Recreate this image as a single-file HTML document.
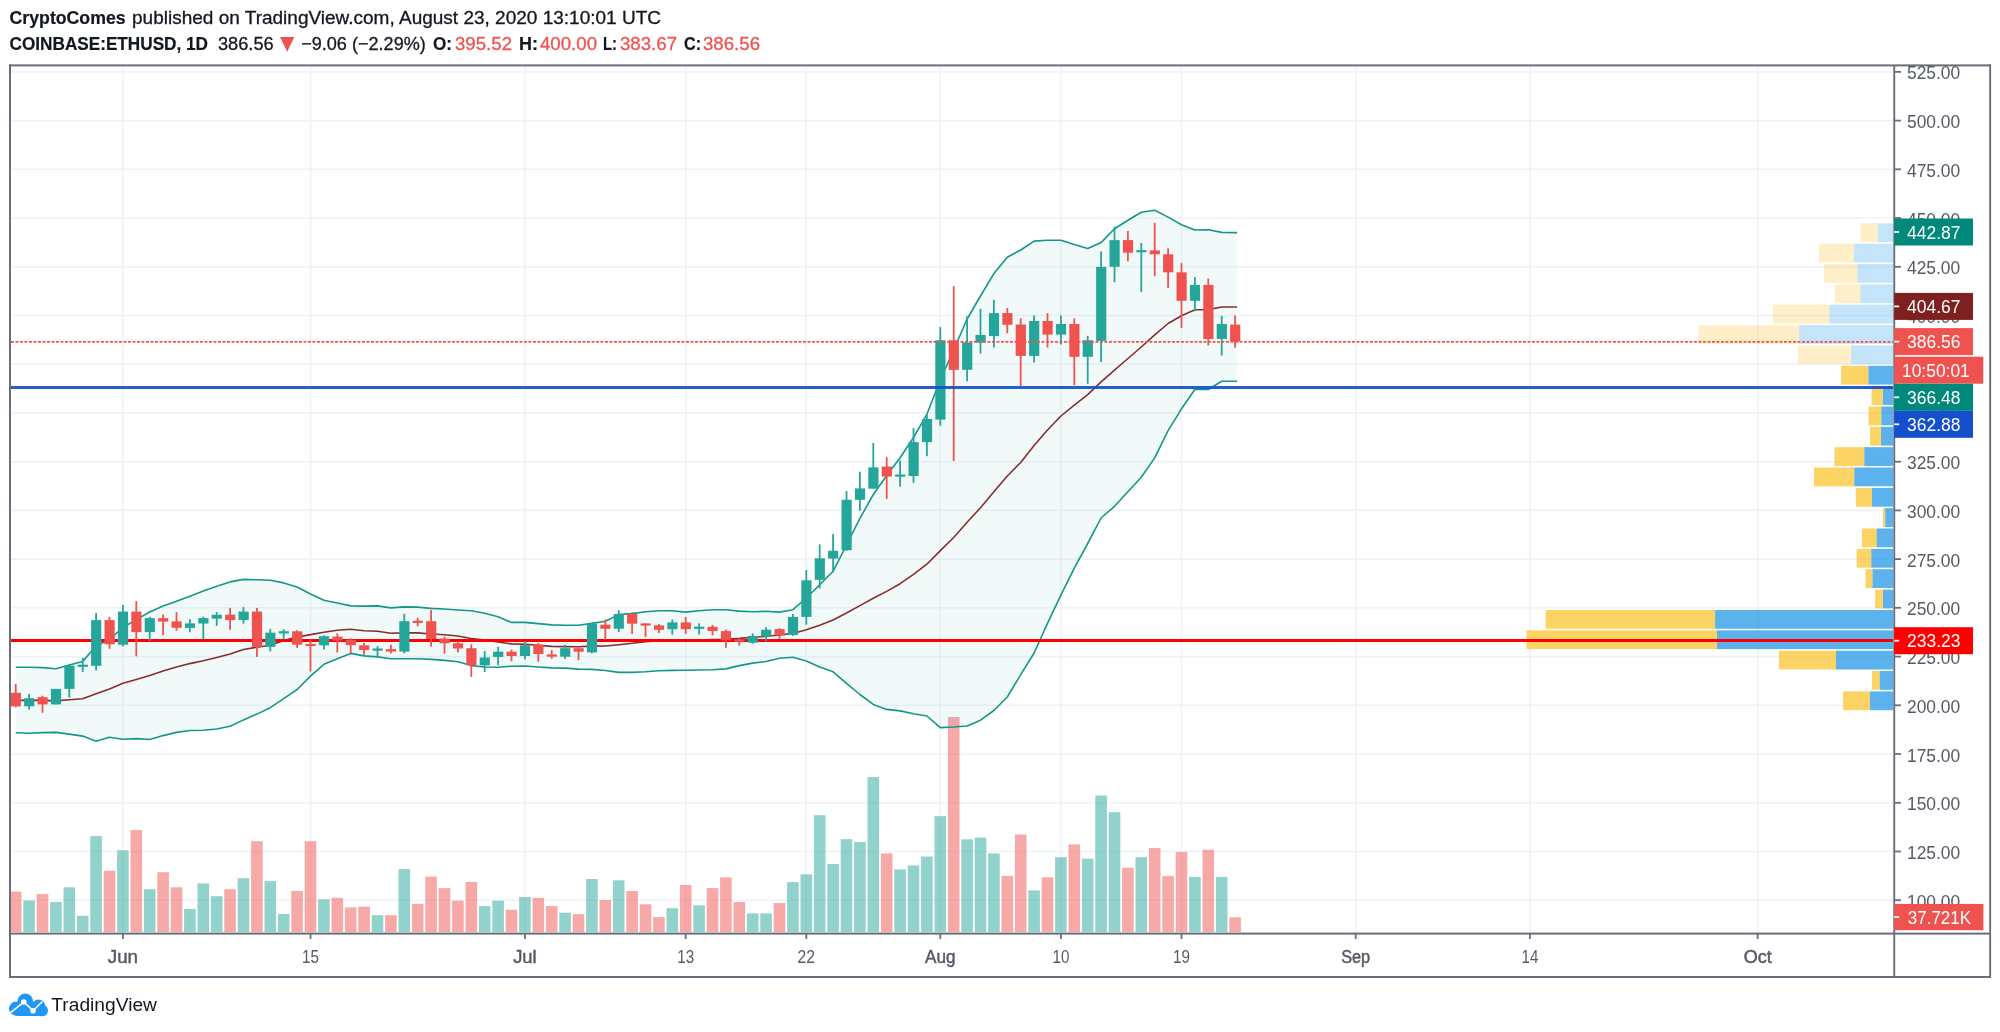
<!DOCTYPE html>
<html><head><meta charset="utf-8"><title>ETHUSD</title>
<style>
html,body{margin:0;padding:0;background:#fff;}
body{width:2000px;height:1032px;overflow:hidden;font-family:"Liberation Sans",sans-serif;}
svg{display:block;position:absolute;left:0;top:0;will-change:transform;}
text{font-family:"Liberation Sans",sans-serif;}
.ax{font-size:18px;fill:#555a66;}
.lb{font-size:18px;fill:#ffffff;}
.tm{font-size:17.5px;fill:#555a66;text-anchor:middle;}
.hd{font-size:18.1px;fill:#131722;stroke:#131722;stroke-width:0.3px;}
.hb{font-size:18.1px;fill:#131722;font-weight:bold;stroke:#131722;stroke-width:0.2px;}
.hr{font-size:18.1px;fill:#ef5350;stroke:#ef5350;stroke-width:0.3px;}
</style></head><body>
<svg width="2000" height="1032" viewBox="0 0 2000 1032">
<rect x="0" y="0" width="2000" height="1032" fill="#ffffff"/>
<defs><clipPath id="pane"><rect x="11" y="66.3" width="1882.3" height="866.4"/></clipPath></defs>
<g id="grid" stroke="#f0f2f9" stroke-width="1.6">
<line x1="11" x2="1893" y1="900.2" y2="900.2"/><line x1="11" x2="1893" y1="851.5" y2="851.5"/><line x1="11" x2="1893" y1="802.8" y2="802.8"/><line x1="11" x2="1893" y1="754.0" y2="754.0"/><line x1="11" x2="1893" y1="705.3" y2="705.3"/><line x1="11" x2="1893" y1="656.6" y2="656.6"/><line x1="11" x2="1893" y1="607.8" y2="607.8"/><line x1="11" x2="1893" y1="559.1" y2="559.1"/><line x1="11" x2="1893" y1="510.4" y2="510.4"/><line x1="11" x2="1893" y1="461.7" y2="461.7"/><line x1="11" x2="1893" y1="412.9" y2="412.9"/><line x1="11" x2="1893" y1="364.2" y2="364.2"/><line x1="11" x2="1893" y1="315.5" y2="315.5"/><line x1="11" x2="1893" y1="266.8" y2="266.8"/><line x1="11" x2="1893" y1="218.0" y2="218.0"/><line x1="11" x2="1893" y1="169.3" y2="169.3"/><line x1="11" x2="1893" y1="120.6" y2="120.6"/><line x1="11" x2="1893" y1="71.9" y2="71.9"/><line x1="122.9" x2="122.9" y1="66" y2="933"/><line x1="310.5" x2="310.5" y1="66" y2="933"/><line x1="524.9" x2="524.9" y1="66" y2="933"/><line x1="685.7" x2="685.7" y1="66" y2="933"/><line x1="806.3" x2="806.3" y1="66" y2="933"/><line x1="940.3" x2="940.3" y1="66" y2="933"/><line x1="1060.9" x2="1060.9" y1="66" y2="933"/><line x1="1181.5" x2="1181.5" y1="66" y2="933"/><line x1="1355.7" x2="1355.7" y1="66" y2="933"/><line x1="1529.9" x2="1529.9" y1="66" y2="933"/><line x1="1757.7" x2="1757.7" y1="66" y2="933"/></g>
<g clip-path="url(#pane)">
<g id="vp">
<rect x="1860.5" y="223.3" width="17.4" height="18.8" fill="rgba(251,193,35,0.25)"/><rect x="1877.9" y="223.3" width="15.6" height="18.8" fill="rgba(21,146,230,0.25)"/>
<rect x="1819.0" y="243.7" width="34.9" height="18.8" fill="rgba(251,193,35,0.25)"/><rect x="1853.9" y="243.7" width="39.6" height="18.8" fill="rgba(21,146,230,0.25)"/>
<rect x="1824.0" y="264.0" width="33.4" height="18.8" fill="rgba(251,193,35,0.25)"/><rect x="1857.4" y="264.0" width="36.1" height="18.8" fill="rgba(21,146,230,0.25)"/>
<rect x="1834.9" y="284.4" width="25.6" height="18.8" fill="rgba(251,193,35,0.25)"/><rect x="1860.5" y="284.4" width="33.0" height="18.8" fill="rgba(21,146,230,0.25)"/>
<rect x="1772.9" y="304.7" width="56.6" height="18.8" fill="rgba(251,193,35,0.25)"/><rect x="1829.5" y="304.7" width="64.0" height="18.8" fill="rgba(21,146,230,0.25)"/>
<rect x="1698.4" y="325.1" width="100.8" height="18.8" fill="rgba(251,193,35,0.25)"/><rect x="1799.2" y="325.1" width="94.3" height="18.8" fill="rgba(21,146,230,0.25)"/>
<rect x="1797.9" y="345.4" width="53.3" height="18.8" fill="rgba(251,193,35,0.25)"/><rect x="1851.2" y="345.4" width="42.3" height="18.8" fill="rgba(21,146,230,0.25)"/>
<rect x="1841.2" y="365.8" width="27.2" height="18.8" fill="rgba(251,193,35,0.7)"/><rect x="1868.4" y="365.8" width="25.1" height="18.8" fill="rgba(21,146,230,0.7)"/>
<rect x="1871.5" y="386.1" width="11.5" height="18.8" fill="rgba(251,193,35,0.7)"/><rect x="1883.0" y="386.1" width="10.5" height="18.8" fill="rgba(21,146,230,0.7)"/>
<rect x="1868.5" y="406.5" width="12.9" height="18.8" fill="rgba(251,193,35,0.7)"/><rect x="1881.4" y="406.5" width="12.1" height="18.8" fill="rgba(21,146,230,0.7)"/>
<rect x="1870.0" y="426.8" width="11.0" height="18.8" fill="rgba(251,193,35,0.7)"/><rect x="1881.0" y="426.8" width="12.5" height="18.8" fill="rgba(21,146,230,0.7)"/>
<rect x="1834.5" y="447.2" width="29.8" height="18.8" fill="rgba(251,193,35,0.7)"/><rect x="1864.3" y="447.2" width="29.2" height="18.8" fill="rgba(21,146,230,0.7)"/>
<rect x="1814.0" y="467.5" width="40.3" height="18.8" fill="rgba(251,193,35,0.7)"/><rect x="1854.3" y="467.5" width="39.2" height="18.8" fill="rgba(21,146,230,0.7)"/>
<rect x="1855.8" y="487.9" width="16.2" height="18.8" fill="rgba(251,193,35,0.7)"/><rect x="1872.0" y="487.9" width="21.5" height="18.8" fill="rgba(21,146,230,0.7)"/>
<rect x="1883.0" y="508.2" width="2.3" height="18.8" fill="rgba(251,193,35,0.7)"/><rect x="1885.3" y="508.2" width="8.2" height="18.8" fill="rgba(21,146,230,0.7)"/>
<rect x="1862.0" y="528.5" width="14.7" height="18.8" fill="rgba(251,193,35,0.7)"/><rect x="1876.7" y="528.5" width="16.8" height="18.8" fill="rgba(21,146,230,0.7)"/>
<rect x="1856.6" y="548.9" width="14.7" height="18.8" fill="rgba(251,193,35,0.7)"/><rect x="1871.3" y="548.9" width="22.2" height="18.8" fill="rgba(21,146,230,0.7)"/>
<rect x="1865.5" y="569.2" width="7.0" height="18.8" fill="rgba(251,193,35,0.7)"/><rect x="1872.5" y="569.2" width="21.0" height="18.8" fill="rgba(21,146,230,0.7)"/>
<rect x="1875.2" y="589.6" width="7.8" height="18.8" fill="rgba(251,193,35,0.7)"/><rect x="1883.0" y="589.6" width="10.5" height="18.8" fill="rgba(21,146,230,0.7)"/>
<rect x="1545.7" y="610.0" width="169.4" height="18.8" fill="rgba(251,193,35,0.7)"/><rect x="1715.1" y="610.0" width="178.4" height="18.8" fill="rgba(21,146,230,0.7)"/>
<rect x="1526.4" y="630.3" width="190.6" height="18.8" fill="rgba(251,193,35,0.7)"/><rect x="1717.0" y="630.3" width="176.5" height="18.8" fill="rgba(21,146,230,0.7)"/>
<rect x="1779.0" y="650.7" width="57.0" height="18.8" fill="rgba(251,193,35,0.7)"/><rect x="1836.0" y="650.7" width="57.5" height="18.8" fill="rgba(21,146,230,0.7)"/>
<rect x="1872.0" y="671.0" width="7.8" height="18.8" fill="rgba(251,193,35,0.7)"/><rect x="1879.8" y="671.0" width="13.7" height="18.8" fill="rgba(21,146,230,0.7)"/>
<rect x="1843.0" y="691.4" width="27.0" height="18.8" fill="rgba(251,193,35,0.7)"/><rect x="1870.0" y="691.4" width="23.5" height="18.8" fill="rgba(21,146,230,0.7)"/>
</g>
<g id="vol">
<rect x="9.9" y="891.6" width="11.6" height="40.6" fill="rgba(239,83,80,0.5)"/><rect x="23.3" y="900.5" width="11.6" height="31.7" fill="rgba(38,166,154,0.5)"/><rect x="36.7" y="894.1" width="11.6" height="38.1" fill="rgba(239,83,80,0.5)"/><rect x="50.1" y="902.0" width="11.6" height="30.2" fill="rgba(38,166,154,0.5)"/><rect x="63.5" y="887.3" width="11.6" height="44.9" fill="rgba(38,166,154,0.5)"/><rect x="76.9" y="915.8" width="11.6" height="16.4" fill="rgba(38,166,154,0.5)"/><rect x="90.3" y="836.1" width="11.6" height="96.1" fill="rgba(38,166,154,0.5)"/><rect x="103.7" y="870.8" width="11.6" height="61.4" fill="rgba(239,83,80,0.5)"/><rect x="117.1" y="850.3" width="11.6" height="81.9" fill="rgba(38,166,154,0.5)"/><rect x="130.5" y="830.1" width="11.6" height="102.1" fill="rgba(239,83,80,0.5)"/><rect x="143.9" y="889.2" width="11.6" height="43.0" fill="rgba(38,166,154,0.5)"/><rect x="157.3" y="872.2" width="11.6" height="60.0" fill="rgba(239,83,80,0.5)"/><rect x="170.7" y="887.3" width="11.6" height="44.9" fill="rgba(239,83,80,0.5)"/><rect x="184.1" y="909.0" width="11.6" height="23.2" fill="rgba(38,166,154,0.5)"/><rect x="197.5" y="883.4" width="11.6" height="48.8" fill="rgba(38,166,154,0.5)"/><rect x="210.9" y="896.2" width="11.6" height="36.0" fill="rgba(38,166,154,0.5)"/><rect x="224.3" y="889.2" width="11.6" height="43.0" fill="rgba(239,83,80,0.5)"/><rect x="237.7" y="878.2" width="11.6" height="54.0" fill="rgba(38,166,154,0.5)"/><rect x="251.1" y="841.2" width="11.6" height="91.0" fill="rgba(239,83,80,0.5)"/><rect x="264.5" y="881.1" width="11.6" height="51.1" fill="rgba(38,166,154,0.5)"/><rect x="277.9" y="914.0" width="11.6" height="18.2" fill="rgba(38,166,154,0.5)"/><rect x="291.3" y="891.0" width="11.6" height="41.2" fill="rgba(239,83,80,0.5)"/><rect x="304.7" y="841.2" width="11.6" height="91.0" fill="rgba(239,83,80,0.5)"/><rect x="318.1" y="899.3" width="11.6" height="32.9" fill="rgba(38,166,154,0.5)"/><rect x="331.5" y="897.8" width="11.6" height="34.4" fill="rgba(239,83,80,0.5)"/><rect x="344.9" y="907.4" width="11.6" height="24.8" fill="rgba(239,83,80,0.5)"/><rect x="358.3" y="906.7" width="11.6" height="25.5" fill="rgba(239,83,80,0.5)"/><rect x="371.7" y="915.2" width="11.6" height="17.0" fill="rgba(38,166,154,0.5)"/><rect x="385.1" y="915.2" width="11.6" height="17.0" fill="rgba(239,83,80,0.5)"/><rect x="398.5" y="869.1" width="11.6" height="63.1" fill="rgba(38,166,154,0.5)"/><rect x="411.9" y="903.8" width="11.6" height="28.4" fill="rgba(239,83,80,0.5)"/><rect x="425.3" y="876.6" width="11.6" height="55.6" fill="rgba(239,83,80,0.5)"/><rect x="438.7" y="888.1" width="11.6" height="44.1" fill="rgba(239,83,80,0.5)"/><rect x="452.1" y="900.7" width="11.6" height="31.5" fill="rgba(239,83,80,0.5)"/><rect x="465.5" y="881.9" width="11.6" height="50.3" fill="rgba(239,83,80,0.5)"/><rect x="478.9" y="906.1" width="11.6" height="26.1" fill="rgba(38,166,154,0.5)"/><rect x="492.3" y="900.7" width="11.6" height="31.5" fill="rgba(38,166,154,0.5)"/><rect x="505.7" y="909.8" width="11.6" height="22.4" fill="rgba(239,83,80,0.5)"/><rect x="519.1" y="897.0" width="11.6" height="35.2" fill="rgba(38,166,154,0.5)"/><rect x="532.5" y="897.8" width="11.6" height="34.4" fill="rgba(239,83,80,0.5)"/><rect x="545.9" y="906.1" width="11.6" height="26.1" fill="rgba(239,83,80,0.5)"/><rect x="559.3" y="912.7" width="11.6" height="19.5" fill="rgba(38,166,154,0.5)"/><rect x="572.7" y="914.2" width="11.6" height="18.0" fill="rgba(239,83,80,0.5)"/><rect x="586.1" y="879.0" width="11.6" height="53.2" fill="rgba(38,166,154,0.5)"/><rect x="599.5" y="900.1" width="11.6" height="32.1" fill="rgba(239,83,80,0.5)"/><rect x="612.9" y="880.3" width="11.6" height="51.9" fill="rgba(38,166,154,0.5)"/><rect x="626.3" y="891.0" width="11.6" height="41.2" fill="rgba(239,83,80,0.5)"/><rect x="639.7" y="904.3" width="11.6" height="27.9" fill="rgba(239,83,80,0.5)"/><rect x="653.1" y="917.1" width="11.6" height="15.1" fill="rgba(239,83,80,0.5)"/><rect x="666.5" y="908.2" width="11.6" height="24.0" fill="rgba(38,166,154,0.5)"/><rect x="679.9" y="885.0" width="11.6" height="47.2" fill="rgba(239,83,80,0.5)"/><rect x="693.3" y="905.3" width="11.6" height="26.9" fill="rgba(38,166,154,0.5)"/><rect x="706.7" y="888.1" width="11.6" height="44.1" fill="rgba(239,83,80,0.5)"/><rect x="720.1" y="877.4" width="11.6" height="54.8" fill="rgba(239,83,80,0.5)"/><rect x="733.5" y="902.0" width="11.6" height="30.2" fill="rgba(239,83,80,0.5)"/><rect x="746.9" y="913.4" width="11.6" height="18.8" fill="rgba(38,166,154,0.5)"/><rect x="760.3" y="913.4" width="11.6" height="18.8" fill="rgba(38,166,154,0.5)"/><rect x="773.7" y="903.0" width="11.6" height="29.2" fill="rgba(239,83,80,0.5)"/><rect x="787.1" y="882.1" width="11.6" height="50.1" fill="rgba(38,166,154,0.5)"/><rect x="800.5" y="874.3" width="11.6" height="57.9" fill="rgba(38,166,154,0.5)"/><rect x="813.9" y="815.2" width="11.6" height="117.0" fill="rgba(38,166,154,0.5)"/><rect x="827.3" y="864.0" width="11.6" height="68.2" fill="rgba(38,166,154,0.5)"/><rect x="840.7" y="839.2" width="11.6" height="93.0" fill="rgba(38,166,154,0.5)"/><rect x="854.1" y="842.1" width="11.6" height="90.1" fill="rgba(38,166,154,0.5)"/><rect x="867.5" y="777.0" width="11.6" height="155.2" fill="rgba(38,166,154,0.5)"/><rect x="880.9" y="853.4" width="11.6" height="78.8" fill="rgba(239,83,80,0.5)"/><rect x="894.3" y="869.4" width="11.6" height="62.8" fill="rgba(38,166,154,0.5)"/><rect x="907.7" y="865.5" width="11.6" height="66.7" fill="rgba(38,166,154,0.5)"/><rect x="921.1" y="856.5" width="11.6" height="75.7" fill="rgba(38,166,154,0.5)"/><rect x="934.5" y="816.1" width="11.6" height="116.1" fill="rgba(38,166,154,0.5)"/><rect x="947.9" y="717.0" width="11.6" height="215.2" fill="rgba(239,83,80,0.5)"/><rect x="961.3" y="839.3" width="11.6" height="92.9" fill="rgba(38,166,154,0.5)"/><rect x="974.7" y="837.6" width="11.6" height="94.6" fill="rgba(38,166,154,0.5)"/><rect x="988.1" y="853.4" width="11.6" height="78.8" fill="rgba(38,166,154,0.5)"/><rect x="1001.5" y="876.1" width="11.6" height="56.1" fill="rgba(239,83,80,0.5)"/><rect x="1014.9" y="834.5" width="11.6" height="97.7" fill="rgba(239,83,80,0.5)"/><rect x="1028.3" y="890.4" width="11.6" height="41.8" fill="rgba(38,166,154,0.5)"/><rect x="1041.7" y="877.3" width="11.6" height="54.9" fill="rgba(239,83,80,0.5)"/><rect x="1055.1" y="857.2" width="11.6" height="75.0" fill="rgba(38,166,154,0.5)"/><rect x="1068.5" y="844.4" width="11.6" height="87.8" fill="rgba(239,83,80,0.5)"/><rect x="1081.9" y="858.7" width="11.6" height="73.5" fill="rgba(38,166,154,0.5)"/><rect x="1095.3" y="795.5" width="11.6" height="136.7" fill="rgba(38,166,154,0.5)"/><rect x="1108.7" y="812.2" width="11.6" height="120.0" fill="rgba(38,166,154,0.5)"/><rect x="1122.1" y="867.7" width="11.6" height="64.5" fill="rgba(239,83,80,0.5)"/><rect x="1135.5" y="857.2" width="11.6" height="75.0" fill="rgba(38,166,154,0.5)"/><rect x="1148.9" y="848.0" width="11.6" height="84.2" fill="rgba(239,83,80,0.5)"/><rect x="1162.3" y="876.1" width="11.6" height="56.1" fill="rgba(239,83,80,0.5)"/><rect x="1175.7" y="851.9" width="11.6" height="80.3" fill="rgba(239,83,80,0.5)"/><rect x="1189.1" y="876.9" width="11.6" height="55.3" fill="rgba(38,166,154,0.5)"/><rect x="1202.5" y="849.7" width="11.6" height="82.5" fill="rgba(239,83,80,0.5)"/><rect x="1215.9" y="876.9" width="11.6" height="55.3" fill="rgba(38,166,154,0.5)"/><rect x="1229.3" y="917.3" width="11.6" height="14.9" fill="rgba(239,83,80,0.5)"/>
</g>
<polygon points="15.7,667.2 29.1,667.2 42.5,667.6 55.9,668.8 69.3,665.0 82.7,661.4 96.1,646.0 109.5,639.5 122.9,627.5 136.3,619.6 149.7,612.0 163.1,606.1 176.5,601.3 189.9,596.2 203.3,591.0 216.7,586.2 230.1,581.9 243.5,579.4 256.9,579.8 270.3,580.2 283.7,582.9 297.1,587.0 310.5,594.0 323.9,600.3 337.3,603.0 350.7,605.9 364.1,606.1 377.5,605.9 390.9,607.9 404.3,606.9 417.7,607.1 431.1,608.4 444.5,609.0 457.9,610.0 471.3,610.8 484.7,613.3 498.1,616.8 511.5,622.4 524.9,622.4 538.3,623.6 551.7,624.9 565.1,625.3 578.5,625.3 591.9,623.4 605.3,621.2 618.7,614.6 632.1,613.6 645.5,611.7 658.9,610.7 672.3,610.7 685.7,612.1 699.1,610.7 712.5,609.8 725.9,609.8 739.3,611.1 752.7,611.7 766.1,611.3 779.5,612.1 792.9,609.7 806.3,598.0 819.7,584.8 833.1,571.3 846.5,545.0 859.9,518.4 873.3,494.5 886.7,475.5 900.1,457.8 913.5,437.5 926.9,414.3 940.3,380.0 953.7,350.0 967.1,319.0 980.5,296.0 993.9,273.6 1007.3,257.2 1020.7,250.0 1034.1,241.1 1047.5,240.3 1060.9,240.3 1074.3,244.6 1087.7,248.4 1101.1,242.6 1114.5,228.7 1127.9,220.3 1141.3,212.2 1154.7,210.3 1168.1,217.1 1181.5,224.8 1194.9,230.0 1208.3,229.7 1221.7,232.4 1235.1,232.6 1236.6,232.6 1236.6,381.3 1235.1,381.3 1221.7,381.3 1208.3,389.5 1194.9,389.5 1181.5,408.8 1168.1,430.7 1154.7,457.9 1141.3,477.2 1127.9,491.8 1114.5,506.3 1101.1,518.0 1087.7,543.5 1074.3,568.2 1060.9,595.2 1047.5,623.3 1034.1,653.0 1020.7,674.7 1007.3,697.0 993.9,710.5 980.5,720.2 967.1,726.0 953.7,727.0 940.3,727.6 926.9,716.0 913.5,713.8 900.1,710.9 886.7,709.4 873.3,704.4 859.9,694.5 846.5,683.4 833.1,671.8 819.7,666.9 806.3,661.1 792.9,657.2 779.5,658.2 766.1,661.5 752.7,663.1 739.3,665.6 725.9,668.9 712.5,669.7 699.1,670.0 685.7,670.2 672.3,670.4 658.9,670.8 645.5,671.8 632.1,672.4 618.7,672.4 605.3,670.5 591.9,669.4 578.5,669.1 565.1,668.1 551.7,667.9 538.3,667.0 524.9,666.0 511.5,666.2 498.1,667.2 484.7,667.0 471.3,665.6 457.9,661.7 444.5,660.4 431.1,659.4 417.7,658.8 404.3,658.8 390.9,658.8 377.5,656.9 364.1,655.9 350.7,653.4 337.3,658.8 323.9,664.3 310.5,676.1 297.1,689.5 283.7,698.6 270.3,707.7 256.9,714.1 243.5,719.9 230.1,726.3 216.7,729.0 203.3,730.2 189.9,730.5 176.5,732.4 163.1,735.6 149.7,739.5 136.3,738.6 122.9,739.3 109.5,737.3 96.1,741.2 82.7,736.1 69.3,734.1 55.9,732.4 42.5,732.6 29.1,733.2 15.7,732.7" fill="#26a69a" fill-opacity="0.058"/>
<polyline points="15.7,667.2 29.1,667.2 42.5,667.6 55.9,668.8 69.3,665.0 82.7,661.4 96.1,646.0 109.5,639.5 122.9,627.5 136.3,619.6 149.7,612.0 163.1,606.1 176.5,601.3 189.9,596.2 203.3,591.0 216.7,586.2 230.1,581.9 243.5,579.4 256.9,579.8 270.3,580.2 283.7,582.9 297.1,587.0 310.5,594.0 323.9,600.3 337.3,603.0 350.7,605.9 364.1,606.1 377.5,605.9 390.9,607.9 404.3,606.9 417.7,607.1 431.1,608.4 444.5,609.0 457.9,610.0 471.3,610.8 484.7,613.3 498.1,616.8 511.5,622.4 524.9,622.4 538.3,623.6 551.7,624.9 565.1,625.3 578.5,625.3 591.9,623.4 605.3,621.2 618.7,614.6 632.1,613.6 645.5,611.7 658.9,610.7 672.3,610.7 685.7,612.1 699.1,610.7 712.5,609.8 725.9,609.8 739.3,611.1 752.7,611.7 766.1,611.3 779.5,612.1 792.9,609.7 806.3,598.0 819.7,584.8 833.1,571.3 846.5,545.0 859.9,518.4 873.3,494.5 886.7,475.5 900.1,457.8 913.5,437.5 926.9,414.3 940.3,380.0 953.7,350.0 967.1,319.0 980.5,296.0 993.9,273.6 1007.3,257.2 1020.7,250.0 1034.1,241.1 1047.5,240.3 1060.9,240.3 1074.3,244.6 1087.7,248.4 1101.1,242.6 1114.5,228.7 1127.9,220.3 1141.3,212.2 1154.7,210.3 1168.1,217.1 1181.5,224.8 1194.9,230.0 1208.3,229.7 1221.7,232.4 1235.1,232.6 1237.1,232.6" fill="none" stroke="#16968a" stroke-width="1.6" stroke-linejoin="round"/>
<polyline points="15.7,732.7 29.1,733.2 42.5,732.6 55.9,732.4 69.3,734.1 82.7,736.1 96.1,741.2 109.5,737.3 122.9,739.3 136.3,738.6 149.7,739.5 163.1,735.6 176.5,732.4 189.9,730.5 203.3,730.2 216.7,729.0 230.1,726.3 243.5,719.9 256.9,714.1 270.3,707.7 283.7,698.6 297.1,689.5 310.5,676.1 323.9,664.3 337.3,658.8 350.7,653.4 364.1,655.9 377.5,656.9 390.9,658.8 404.3,658.8 417.7,658.8 431.1,659.4 444.5,660.4 457.9,661.7 471.3,665.6 484.7,667.0 498.1,667.2 511.5,666.2 524.9,666.0 538.3,667.0 551.7,667.9 565.1,668.1 578.5,669.1 591.9,669.4 605.3,670.5 618.7,672.4 632.1,672.4 645.5,671.8 658.9,670.8 672.3,670.4 685.7,670.2 699.1,670.0 712.5,669.7 725.9,668.9 739.3,665.6 752.7,663.1 766.1,661.5 779.5,658.2 792.9,657.2 806.3,661.1 819.7,666.9 833.1,671.8 846.5,683.4 859.9,694.5 873.3,704.4 886.7,709.4 900.1,710.9 913.5,713.8 926.9,716.0 940.3,727.6 953.7,727.0 967.1,726.0 980.5,720.2 993.9,710.5 1007.3,697.0 1020.7,674.7 1034.1,653.0 1047.5,623.3 1060.9,595.2 1074.3,568.2 1087.7,543.5 1101.1,518.0 1114.5,506.3 1127.9,491.8 1141.3,477.2 1154.7,457.9 1168.1,430.7 1181.5,408.8 1194.9,389.5 1208.3,389.5 1221.7,381.3 1235.1,381.3 1237.1,381.3" fill="none" stroke="#16968a" stroke-width="1.6" stroke-linejoin="round"/>
<polyline points="15.7,700.4 29.1,700.4 42.5,700.4 55.9,700.9 69.3,699.8 82.7,698.8 96.1,693.8 109.5,688.9 122.9,683.2 136.3,679.4 149.7,675.6 163.1,671.0 176.5,667.1 189.9,663.6 203.3,660.8 216.7,657.5 230.1,654.0 243.5,649.5 256.9,647.2 270.3,645.3 283.7,640.5 297.1,637.1 310.5,634.6 323.9,632.3 337.3,630.3 350.7,629.2 364.1,630.7 377.5,631.3 390.9,633.3 404.3,632.9 417.7,632.9 431.1,634.0 444.5,634.8 457.9,636.0 471.3,638.5 484.7,640.0 498.1,642.0 511.5,643.9 524.9,644.3 538.3,645.3 551.7,646.4 565.1,646.6 578.5,646.8 591.9,646.1 605.3,646.0 618.7,644.7 632.1,643.3 645.5,641.7 658.9,640.8 672.3,640.5 685.7,640.3 699.1,640.0 712.5,639.6 725.9,639.2 739.3,638.4 752.7,637.3 766.1,636.3 779.5,635.0 792.9,633.4 806.3,629.7 819.7,625.3 833.1,620.0 846.5,613.0 859.9,605.6 873.3,598.2 886.7,591.4 900.1,583.7 913.5,574.4 926.9,564.2 940.3,550.6 953.7,537.5 967.1,522.3 980.5,507.8 993.9,491.7 1007.3,476.0 1020.7,462.5 1034.1,445.5 1047.5,430.0 1060.9,416.0 1074.3,405.2 1087.7,394.6 1101.1,381.8 1114.5,370.1 1127.9,358.5 1141.3,347.0 1154.7,334.8 1168.1,323.5 1181.5,315.8 1194.9,309.8 1208.3,309.6 1221.7,307.0 1235.1,307.0 1237.1,307.0" fill="none" stroke="#872d2d" stroke-width="1.6" stroke-linejoin="round"/>
<line x1="11" x2="1893.5" y1="640.5" y2="640.5" stroke="#ff0000" stroke-width="2.9"/>
<g id="candles">
<rect x="14.8" y="684.0" width="1.8" height="23.3" fill="#ef5350"/><rect x="10.7" y="692.8" width="10.2" height="13.6" fill="#ef5350"/>
<rect x="28.2" y="694.1" width="1.8" height="15.5" fill="#26a69a"/><rect x="24.1" y="698.2" width="10.2" height="8.1" fill="#26a69a"/>
<rect x="41.6" y="695.7" width="1.8" height="17.1" fill="#ef5350"/><rect x="37.5" y="697.2" width="10.2" height="7.2" fill="#ef5350"/>
<rect x="55.0" y="688.9" width="1.8" height="15.5" fill="#26a69a"/><rect x="50.9" y="688.9" width="10.2" height="15.5" fill="#26a69a"/>
<rect x="68.4" y="665.6" width="1.8" height="32.0" fill="#26a69a"/><rect x="64.3" y="665.6" width="10.2" height="23.3" fill="#26a69a"/>
<rect x="81.8" y="657.5" width="1.8" height="14.5" fill="#26a69a"/><rect x="77.7" y="664.7" width="10.2" height="2.2" fill="#26a69a"/>
<rect x="95.2" y="612.9" width="1.8" height="57.6" fill="#26a69a"/><rect x="91.1" y="620.1" width="10.2" height="45.7" fill="#26a69a"/>
<rect x="108.6" y="616.8" width="1.8" height="32.0" fill="#ef5350"/><rect x="104.5" y="620.1" width="10.2" height="24.2" fill="#ef5350"/>
<rect x="122.0" y="605.0" width="1.8" height="41.3" fill="#26a69a"/><rect x="117.9" y="611.6" width="10.2" height="33.1" fill="#26a69a"/>
<rect x="135.4" y="601.1" width="1.8" height="55.2" fill="#ef5350"/><rect x="131.3" y="611.6" width="10.2" height="20.5" fill="#ef5350"/>
<rect x="148.8" y="616.8" width="1.8" height="24.2" fill="#26a69a"/><rect x="144.7" y="618.1" width="10.2" height="14.0" fill="#26a69a"/>
<rect x="162.2" y="614.5" width="1.8" height="20.7" fill="#ef5350"/><rect x="158.1" y="618.1" width="10.2" height="3.5" fill="#ef5350"/>
<rect x="175.6" y="612.1" width="1.8" height="18.6" fill="#ef5350"/><rect x="171.5" y="621.4" width="10.2" height="6.4" fill="#ef5350"/>
<rect x="189.0" y="619.1" width="1.8" height="13.2" fill="#26a69a"/><rect x="184.9" y="623.4" width="10.2" height="4.5" fill="#26a69a"/>
<rect x="202.4" y="616.6" width="1.8" height="22.5" fill="#26a69a"/><rect x="198.3" y="618.1" width="10.2" height="5.4" fill="#26a69a"/>
<rect x="215.8" y="612.1" width="1.8" height="13.8" fill="#26a69a"/><rect x="211.7" y="614.8" width="10.2" height="3.9" fill="#26a69a"/>
<rect x="229.2" y="607.9" width="1.8" height="21.9" fill="#ef5350"/><rect x="225.1" y="614.7" width="10.2" height="5.4" fill="#ef5350"/>
<rect x="242.6" y="607.1" width="1.8" height="16.5" fill="#26a69a"/><rect x="238.5" y="611.6" width="10.2" height="8.5" fill="#26a69a"/>
<rect x="256.0" y="607.9" width="1.8" height="49.0" fill="#ef5350"/><rect x="251.9" y="611.6" width="10.2" height="35.3" fill="#ef5350"/>
<rect x="269.4" y="628.8" width="1.8" height="22.7" fill="#26a69a"/><rect x="265.3" y="632.7" width="10.2" height="14.1" fill="#26a69a"/>
<rect x="282.8" y="629.2" width="1.8" height="10.3" fill="#26a69a"/><rect x="278.7" y="631.2" width="10.2" height="2.2" fill="#26a69a"/>
<rect x="296.2" y="630.2" width="1.8" height="17.6" fill="#ef5350"/><rect x="292.1" y="631.3" width="10.2" height="13.4" fill="#ef5350"/>
<rect x="309.6" y="639.5" width="1.8" height="32.0" fill="#ef5350"/><rect x="305.5" y="643.9" width="10.2" height="2.2" fill="#ef5350"/>
<rect x="323.0" y="635.2" width="1.8" height="14.3" fill="#26a69a"/><rect x="318.9" y="636.2" width="10.2" height="9.1" fill="#26a69a"/>
<rect x="336.4" y="633.3" width="1.8" height="19.2" fill="#ef5350"/><rect x="332.3" y="636.6" width="10.2" height="3.9" fill="#ef5350"/>
<rect x="349.8" y="638.1" width="1.8" height="14.9" fill="#ef5350"/><rect x="345.7" y="639.8" width="10.2" height="5.4" fill="#ef5350"/>
<rect x="363.2" y="642.9" width="1.8" height="12.0" fill="#ef5350"/><rect x="359.1" y="645.3" width="10.2" height="4.8" fill="#ef5350"/>
<rect x="376.6" y="646.2" width="1.8" height="10.3" fill="#26a69a"/><rect x="372.5" y="648.5" width="10.2" height="2.2" fill="#26a69a"/>
<rect x="390.0" y="644.7" width="1.8" height="8.7" fill="#ef5350"/><rect x="385.9" y="649.1" width="10.2" height="2.5" fill="#ef5350"/>
<rect x="403.4" y="613.7" width="1.8" height="39.7" fill="#26a69a"/><rect x="399.3" y="621.2" width="10.2" height="30.4" fill="#26a69a"/>
<rect x="416.8" y="617.8" width="1.8" height="8.5" fill="#ef5350"/><rect x="412.7" y="620.7" width="10.2" height="2.2" fill="#ef5350"/>
<rect x="430.2" y="610.0" width="1.8" height="36.6" fill="#ef5350"/><rect x="426.1" y="621.2" width="10.2" height="17.8" fill="#ef5350"/>
<rect x="443.6" y="636.6" width="1.8" height="17.1" fill="#ef5350"/><rect x="439.5" y="638.5" width="10.2" height="4.8" fill="#ef5350"/>
<rect x="457.0" y="641.4" width="1.8" height="11.0" fill="#ef5350"/><rect x="452.9" y="643.3" width="10.2" height="5.2" fill="#ef5350"/>
<rect x="470.4" y="644.3" width="1.8" height="32.6" fill="#ef5350"/><rect x="466.3" y="648.2" width="10.2" height="17.1" fill="#ef5350"/>
<rect x="483.8" y="651.1" width="1.8" height="20.9" fill="#26a69a"/><rect x="479.7" y="657.5" width="10.2" height="7.8" fill="#26a69a"/>
<rect x="497.2" y="646.8" width="1.8" height="18.4" fill="#26a69a"/><rect x="493.1" y="651.7" width="10.2" height="5.2" fill="#26a69a"/>
<rect x="510.6" y="649.7" width="1.8" height="11.6" fill="#ef5350"/><rect x="506.5" y="651.7" width="10.2" height="4.3" fill="#ef5350"/>
<rect x="524.0" y="641.4" width="1.8" height="18.0" fill="#26a69a"/><rect x="519.9" y="645.3" width="10.2" height="10.7" fill="#26a69a"/>
<rect x="537.4" y="642.9" width="1.8" height="18.8" fill="#ef5350"/><rect x="533.3" y="644.7" width="10.2" height="9.3" fill="#ef5350"/>
<rect x="550.8" y="650.1" width="1.8" height="8.7" fill="#ef5350"/><rect x="546.7" y="654.4" width="10.2" height="2.3" fill="#ef5350"/>
<rect x="564.2" y="644.9" width="1.8" height="14.0" fill="#26a69a"/><rect x="560.1" y="648.2" width="10.2" height="8.5" fill="#26a69a"/>
<rect x="577.6" y="646.6" width="1.8" height="13.6" fill="#ef5350"/><rect x="573.5" y="648.2" width="10.2" height="3.5" fill="#ef5350"/>
<rect x="591.0" y="622.9" width="1.8" height="30.4" fill="#26a69a"/><rect x="586.9" y="623.7" width="10.2" height="28.7" fill="#26a69a"/>
<rect x="604.4" y="619.5" width="1.8" height="20.3" fill="#ef5350"/><rect x="600.3" y="624.7" width="10.2" height="4.1" fill="#ef5350"/>
<rect x="617.8" y="610.2" width="1.8" height="21.9" fill="#26a69a"/><rect x="613.7" y="614.0" width="10.2" height="14.7" fill="#26a69a"/>
<rect x="631.2" y="612.1" width="1.8" height="21.9" fill="#ef5350"/><rect x="627.1" y="614.0" width="10.2" height="9.7" fill="#ef5350"/>
<rect x="644.6" y="623.3" width="1.8" height="13.6" fill="#ef5350"/><rect x="640.5" y="623.4" width="10.2" height="2.2" fill="#ef5350"/>
<rect x="658.0" y="623.9" width="1.8" height="9.1" fill="#ef5350"/><rect x="653.9" y="625.3" width="10.2" height="4.5" fill="#ef5350"/>
<rect x="671.4" y="619.5" width="1.8" height="15.1" fill="#26a69a"/><rect x="667.3" y="622.4" width="10.2" height="6.8" fill="#26a69a"/>
<rect x="684.8" y="616.9" width="1.8" height="17.1" fill="#ef5350"/><rect x="680.7" y="622.4" width="10.2" height="6.8" fill="#ef5350"/>
<rect x="698.2" y="623.3" width="1.8" height="11.2" fill="#26a69a"/><rect x="694.1" y="626.7" width="10.2" height="2.2" fill="#26a69a"/>
<rect x="711.6" y="624.9" width="1.8" height="10.5" fill="#ef5350"/><rect x="707.5" y="626.8" width="10.2" height="4.3" fill="#ef5350"/>
<rect x="725.0" y="629.5" width="1.8" height="18.4" fill="#ef5350"/><rect x="720.9" y="631.1" width="10.2" height="9.3" fill="#ef5350"/>
<rect x="738.4" y="638.4" width="1.8" height="7.2" fill="#ef5350"/><rect x="734.3" y="639.4" width="10.2" height="2.2" fill="#ef5350"/>
<rect x="751.8" y="633.4" width="1.8" height="10.3" fill="#26a69a"/><rect x="747.7" y="635.9" width="10.2" height="6.8" fill="#26a69a"/>
<rect x="765.2" y="627.2" width="1.8" height="14.0" fill="#26a69a"/><rect x="761.1" y="629.7" width="10.2" height="6.8" fill="#26a69a"/>
<rect x="778.6" y="628.2" width="1.8" height="10.7" fill="#ef5350"/><rect x="774.5" y="629.1" width="10.2" height="6.2" fill="#ef5350"/>
<rect x="792.0" y="614.0" width="1.8" height="21.9" fill="#26a69a"/><rect x="787.9" y="616.9" width="10.2" height="18.0" fill="#26a69a"/>
<rect x="805.4" y="570.0" width="1.8" height="54.7" fill="#26a69a"/><rect x="801.3" y="580.3" width="10.2" height="36.6" fill="#26a69a"/>
<rect x="818.8" y="544.4" width="1.8" height="44.0" fill="#26a69a"/><rect x="814.7" y="558.3" width="10.2" height="21.5" fill="#26a69a"/>
<rect x="832.2" y="534.1" width="1.8" height="38.4" fill="#26a69a"/><rect x="828.1" y="550.8" width="10.2" height="7.8" fill="#26a69a"/>
<rect x="845.6" y="491.1" width="1.8" height="59.7" fill="#26a69a"/><rect x="841.5" y="499.8" width="10.2" height="50.4" fill="#26a69a"/>
<rect x="859.0" y="471.7" width="1.8" height="39.1" fill="#26a69a"/><rect x="854.9" y="488.4" width="10.2" height="11.4" fill="#26a69a"/>
<rect x="872.4" y="443.0" width="1.8" height="45.7" fill="#26a69a"/><rect x="868.3" y="467.4" width="10.2" height="21.3" fill="#26a69a"/>
<rect x="885.8" y="457.2" width="1.8" height="41.7" fill="#ef5350"/><rect x="881.7" y="466.5" width="10.2" height="10.1" fill="#ef5350"/>
<rect x="899.2" y="460.5" width="1.8" height="26.2" fill="#26a69a"/><rect x="895.1" y="474.5" width="10.2" height="2.2" fill="#26a69a"/>
<rect x="912.6" y="428.1" width="1.8" height="54.8" fill="#26a69a"/><rect x="908.5" y="442.1" width="10.2" height="33.9" fill="#26a69a"/>
<rect x="926.0" y="414.0" width="1.8" height="42.2" fill="#26a69a"/><rect x="921.9" y="419.0" width="10.2" height="23.1" fill="#26a69a"/>
<rect x="939.4" y="327.1" width="1.8" height="98.6" fill="#26a69a"/><rect x="935.3" y="340.2" width="10.2" height="79.4" fill="#26a69a"/>
<rect x="952.8" y="286.1" width="1.8" height="174.9" fill="#ef5350"/><rect x="948.7" y="340.2" width="10.2" height="29.7" fill="#ef5350"/>
<rect x="966.2" y="316.3" width="1.8" height="64.9" fill="#26a69a"/><rect x="962.1" y="342.4" width="10.2" height="27.4" fill="#26a69a"/>
<rect x="979.6" y="308.8" width="1.8" height="44.8" fill="#26a69a"/><rect x="975.5" y="334.9" width="10.2" height="7.8" fill="#26a69a"/>
<rect x="993.0" y="299.7" width="1.8" height="47.8" fill="#26a69a"/><rect x="988.9" y="313.1" width="10.2" height="23.0" fill="#26a69a"/>
<rect x="1006.4" y="307.9" width="1.8" height="25.3" fill="#ef5350"/><rect x="1002.3" y="313.1" width="10.2" height="11.7" fill="#ef5350"/>
<rect x="1019.8" y="318.4" width="1.8" height="67.5" fill="#ef5350"/><rect x="1015.7" y="324.5" width="10.2" height="31.4" fill="#ef5350"/>
<rect x="1033.2" y="315.4" width="1.8" height="47.1" fill="#26a69a"/><rect x="1029.1" y="321.0" width="10.2" height="34.9" fill="#26a69a"/>
<rect x="1046.6" y="313.1" width="1.8" height="34.4" fill="#ef5350"/><rect x="1042.5" y="321.0" width="10.2" height="13.6" fill="#ef5350"/>
<rect x="1060.0" y="315.4" width="1.8" height="29.1" fill="#26a69a"/><rect x="1055.9" y="324.0" width="10.2" height="10.6" fill="#26a69a"/>
<rect x="1073.4" y="318.4" width="1.8" height="66.8" fill="#ef5350"/><rect x="1069.3" y="324.0" width="10.2" height="32.8" fill="#ef5350"/>
<rect x="1086.8" y="335.8" width="1.8" height="48.0" fill="#26a69a"/><rect x="1082.7" y="340.2" width="10.2" height="16.6" fill="#26a69a"/>
<rect x="1100.2" y="251.4" width="1.8" height="110.5" fill="#26a69a"/><rect x="1096.1" y="266.9" width="10.2" height="74.0" fill="#26a69a"/>
<rect x="1113.6" y="226.7" width="1.8" height="55.6" fill="#26a69a"/><rect x="1109.5" y="240.1" width="10.2" height="26.7" fill="#26a69a"/>
<rect x="1127.0" y="231.0" width="1.8" height="30.4" fill="#ef5350"/><rect x="1122.9" y="240.1" width="10.2" height="12.6" fill="#ef5350"/>
<rect x="1140.4" y="243.0" width="1.8" height="49.0" fill="#26a69a"/><rect x="1136.3" y="250.1" width="10.2" height="2.2" fill="#26a69a"/>
<rect x="1153.8" y="222.9" width="1.8" height="53.3" fill="#ef5350"/><rect x="1149.7" y="250.4" width="10.2" height="3.9" fill="#ef5350"/>
<rect x="1167.2" y="248.4" width="1.8" height="39.7" fill="#ef5350"/><rect x="1163.1" y="254.3" width="10.2" height="18.0" fill="#ef5350"/>
<rect x="1180.6" y="263.0" width="1.8" height="64.9" fill="#ef5350"/><rect x="1176.5" y="272.3" width="10.2" height="28.5" fill="#ef5350"/>
<rect x="1194.0" y="277.1" width="1.8" height="34.3" fill="#26a69a"/><rect x="1189.9" y="284.9" width="10.2" height="15.9" fill="#26a69a"/>
<rect x="1207.4" y="278.5" width="1.8" height="66.9" fill="#ef5350"/><rect x="1203.3" y="284.9" width="10.2" height="54.1" fill="#ef5350"/>
<rect x="1220.8" y="315.9" width="1.8" height="39.7" fill="#26a69a"/><rect x="1216.7" y="324.0" width="10.2" height="14.9" fill="#26a69a"/>
<rect x="1234.2" y="315.3" width="1.8" height="32.4" fill="#ef5350"/><rect x="1230.1" y="324.6" width="10.2" height="16.9" fill="#ef5350"/>
</g>
<line x1="11" x2="1893.5" y1="387.5" y2="387.5" stroke="#1450cd" stroke-opacity="0.92" stroke-width="3.2"/>
<line x1="11" x2="1893.5" y1="341.8" y2="341.8" stroke="#ef5350" stroke-width="1.7" stroke-dasharray="2.9 1.6"/>
</g>
<g fill="#6b6e7a"><rect x="9" y="64.4" width="1982" height="2"/><rect x="9" y="976" width="1982" height="2"/><rect x="9" y="64.4" width="2" height="913.6"/><rect x="1989.2" y="64.4" width="1.9" height="913.6"/><rect x="1893.3" y="66" width="1.9" height="911"/><rect x="9" y="932.6" width="1982" height="2"/><rect x="1895" y="899.3" width="6" height="1.8"/><rect x="1895" y="850.6" width="6" height="1.8"/><rect x="1895" y="801.9" width="6" height="1.8"/><rect x="1895" y="753.1" width="6" height="1.8"/><rect x="1895" y="704.4" width="6" height="1.8"/><rect x="1895" y="655.7" width="6" height="1.8"/><rect x="1895" y="606.9" width="6" height="1.8"/><rect x="1895" y="558.2" width="6" height="1.8"/><rect x="1895" y="509.5" width="6" height="1.8"/><rect x="1895" y="460.8" width="6" height="1.8"/><rect x="1895" y="412.0" width="6" height="1.8"/><rect x="1895" y="363.3" width="6" height="1.8"/><rect x="1895" y="314.6" width="6" height="1.8"/><rect x="1895" y="265.9" width="6" height="1.8"/><rect x="1895" y="217.1" width="6" height="1.8"/><rect x="1895" y="168.4" width="6" height="1.8"/><rect x="1895" y="119.7" width="6" height="1.8"/><rect x="1895" y="71.0" width="6" height="1.8"/><rect x="122.0" y="934" width="1.8" height="5"/><rect x="309.6" y="934" width="1.8" height="5"/><rect x="524.0" y="934" width="1.8" height="5"/><rect x="684.8" y="934" width="1.8" height="5"/><rect x="805.4" y="934" width="1.8" height="5"/><rect x="939.4" y="934" width="1.8" height="5"/><rect x="1060.0" y="934" width="1.8" height="5"/><rect x="1180.6" y="934" width="1.8" height="5"/><rect x="1354.8" y="934" width="1.8" height="5"/><rect x="1529.0" y="934" width="1.8" height="5"/><rect x="1756.8" y="934" width="1.8" height="5"/></g>
<text class="ax" x="1907" y="907.7" textLength="53.2" lengthAdjust="spacingAndGlyphs">100.00</text><text class="ax" x="1907" y="859.0" textLength="53.2" lengthAdjust="spacingAndGlyphs">125.00</text><text class="ax" x="1907" y="810.2" textLength="53.2" lengthAdjust="spacingAndGlyphs">150.00</text><text class="ax" x="1907" y="761.5" textLength="53.2" lengthAdjust="spacingAndGlyphs">175.00</text><text class="ax" x="1907" y="712.8" textLength="53.2" lengthAdjust="spacingAndGlyphs">200.00</text><text class="ax" x="1907" y="664.1" textLength="53.2" lengthAdjust="spacingAndGlyphs">225.00</text><text class="ax" x="1907" y="615.3" textLength="53.2" lengthAdjust="spacingAndGlyphs">250.00</text><text class="ax" x="1907" y="566.6" textLength="53.2" lengthAdjust="spacingAndGlyphs">275.00</text><text class="ax" x="1907" y="517.9" textLength="53.2" lengthAdjust="spacingAndGlyphs">300.00</text><text class="ax" x="1907" y="469.2" textLength="53.2" lengthAdjust="spacingAndGlyphs">325.00</text><text class="ax" x="1907" y="420.4" textLength="53.2" lengthAdjust="spacingAndGlyphs">350.00</text><text class="ax" x="1907" y="371.7" textLength="53.2" lengthAdjust="spacingAndGlyphs">375.00</text><text class="ax" x="1907" y="323.0" textLength="53.2" lengthAdjust="spacingAndGlyphs">400.00</text><text class="ax" x="1907" y="274.3" textLength="53.2" lengthAdjust="spacingAndGlyphs">425.00</text><text class="ax" x="1907" y="225.5" textLength="53.2" lengthAdjust="spacingAndGlyphs">450.00</text><text class="ax" x="1907" y="176.8" textLength="53.2" lengthAdjust="spacingAndGlyphs">475.00</text><text class="ax" x="1907" y="128.1" textLength="53.2" lengthAdjust="spacingAndGlyphs">500.00</text><text class="ax" x="1907" y="79.4" textLength="53.2" lengthAdjust="spacingAndGlyphs">525.00</text>
<text class="tm" x="122.9" y="962.7" textLength="30.3" lengthAdjust="spacingAndGlyphs" stroke="#555a66" stroke-width="0.45">Jun</text><text class="tm" x="310.5" y="962.7" textLength="16.9" lengthAdjust="spacingAndGlyphs">15</text><text class="tm" x="524.9" y="962.7" textLength="23.5" lengthAdjust="spacingAndGlyphs" stroke="#555a66" stroke-width="0.45">Jul</text><text class="tm" x="685.7" y="962.7" textLength="16.9" lengthAdjust="spacingAndGlyphs">13</text><text class="tm" x="806.3" y="962.7" textLength="17.5" lengthAdjust="spacingAndGlyphs">22</text><text class="tm" x="940.3" y="962.7" textLength="30.5" lengthAdjust="spacingAndGlyphs" stroke="#555a66" stroke-width="0.45">Aug</text><text class="tm" x="1060.9" y="962.7" textLength="16.9" lengthAdjust="spacingAndGlyphs">10</text><text class="tm" x="1181.5" y="962.7" textLength="16.9" lengthAdjust="spacingAndGlyphs">19</text><text class="tm" x="1355.7" y="962.7" textLength="29" lengthAdjust="spacingAndGlyphs" stroke="#555a66" stroke-width="0.45">Sep</text><text class="tm" x="1529.9" y="962.7" textLength="16.9" lengthAdjust="spacingAndGlyphs">14</text><text class="tm" x="1757.7" y="962.7" textLength="28" lengthAdjust="spacingAndGlyphs" stroke="#555a66" stroke-width="0.45">Oct</text>
<rect x="1894.2" y="218.5" width="78.8" height="27" fill="#00897b"/><rect x="1894.2" y="231.1" width="5" height="1.8" fill="#ffffff"/><text class="lb" x="1907" y="238.5" textLength="53.4" lengthAdjust="spacingAndGlyphs">442.87</text>
<rect x="1894.2" y="292.9" width="78.8" height="27" fill="#7f2020"/><rect x="1894.2" y="305.5" width="5" height="1.8" fill="#ffffff"/><text class="lb" x="1907" y="312.9" textLength="53.4" lengthAdjust="spacingAndGlyphs">404.67</text>
<rect x="1894.2" y="328.1" width="78.8" height="27" fill="#ef5350"/><rect x="1894.2" y="340.7" width="5" height="1.8" fill="#ffffff"/><text class="lb" x="1907" y="348.1" textLength="53.4" lengthAdjust="spacingAndGlyphs">386.56</text>
<rect x="1894.2" y="356.7" width="89.1" height="27" fill="#ef5350"/><text class="lb" x="1902" y="376.7" textLength="67.8" lengthAdjust="spacingAndGlyphs">10:50:01</text>
<rect x="1894.2" y="383.8" width="78.8" height="27" fill="#00897b"/><rect x="1894.2" y="396.4" width="5" height="1.8" fill="#ffffff"/><text class="lb" x="1907" y="403.8" textLength="53.4" lengthAdjust="spacingAndGlyphs">366.48</text>
<rect x="1894.2" y="410.8" width="78.8" height="27" fill="#1450cd"/><rect x="1894.2" y="423.4" width="5" height="1.8" fill="#ffffff"/><text class="lb" x="1907" y="430.8" textLength="53.4" lengthAdjust="spacingAndGlyphs">362.88</text>
<rect x="1894.2" y="627.2" width="78.8" height="27" fill="#ff0000"/><rect x="1894.2" y="639.8" width="5" height="1.8" fill="#ffffff"/><text class="lb" x="1907" y="647.2" textLength="53.4" lengthAdjust="spacingAndGlyphs">233.23</text>
<rect x="1894.2" y="903.9" width="89.2" height="26.3" fill="#ef5350"/><rect x="1894.2" y="916.1" width="5" height="1.8" fill="#ffffff"/><text class="lb" x="1907.7" y="923.6" textLength="63.5" lengthAdjust="spacingAndGlyphs">37.721K</text>
<text class="hb" x="9.6" y="24.4" textLength="116" lengthAdjust="spacingAndGlyphs">CryptoComes</text><text class="hd" x="132" y="24.4" textLength="529" lengthAdjust="spacingAndGlyphs">published on TradingView.com, August 23, 2020 13:10:01 UTC</text>
<text class="hb" x="9.6" y="49.6" textLength="198.4" lengthAdjust="spacingAndGlyphs">COINBASE:ETHUSD, 1D</text><text class="hd" x="218" y="49.6" textLength="55.6" lengthAdjust="spacingAndGlyphs">386.56</text><polygon points="280,37 294.4,37 287.2,51.8" fill="#ef5350"/><text class="hd" x="301.2" y="49.6" textLength="124.6" lengthAdjust="spacingAndGlyphs">−9.06 (−2.29%)</text><text class="hb" x="433" y="49.6" textLength="19" lengthAdjust="spacingAndGlyphs">O:</text><text class="hr" x="455" y="49.6" textLength="57" lengthAdjust="spacingAndGlyphs">395.52</text><text class="hb" x="519" y="49.6" textLength="19" lengthAdjust="spacingAndGlyphs">H:</text><text class="hr" x="540" y="49.6" textLength="57" lengthAdjust="spacingAndGlyphs">400.00</text><text class="hb" x="603" y="49.6" textLength="14" lengthAdjust="spacingAndGlyphs">L:</text><text class="hr" x="620" y="49.6" textLength="57" lengthAdjust="spacingAndGlyphs">383.67</text><text class="hb" x="684" y="49.6" textLength="17" lengthAdjust="spacingAndGlyphs">C:</text><text class="hr" x="703" y="49.6" textLength="57" lengthAdjust="spacingAndGlyphs">386.56</text>
<g id="logo"><g fill="#2196f3"><circle cx="25.3" cy="1001.3" r="7.8"/><circle cx="16" cy="1008.6" r="7"/><circle cx="38.5" cy="1006.3" r="6.8"/><circle cx="42.3" cy="1010.6" r="5.7"/><rect x="14" y="1004" width="29" height="12" rx="3"/></g><polyline points="10.5,1012.6 23.8,1002 33,1010.7 42.5,1001.5" fill="none" stroke="#ffffff" stroke-width="1.6"/><circle cx="23.8" cy="1002" r="2.8" fill="#ffffff"/><circle cx="33" cy="1010.7" r="2.8" fill="#ffffff"/><text x="51.3" y="1010.6" font-size="18.3" fill="#131722" textLength="105.7" lengthAdjust="spacingAndGlyphs">TradingView</text></g>
</svg>
</body></html>
